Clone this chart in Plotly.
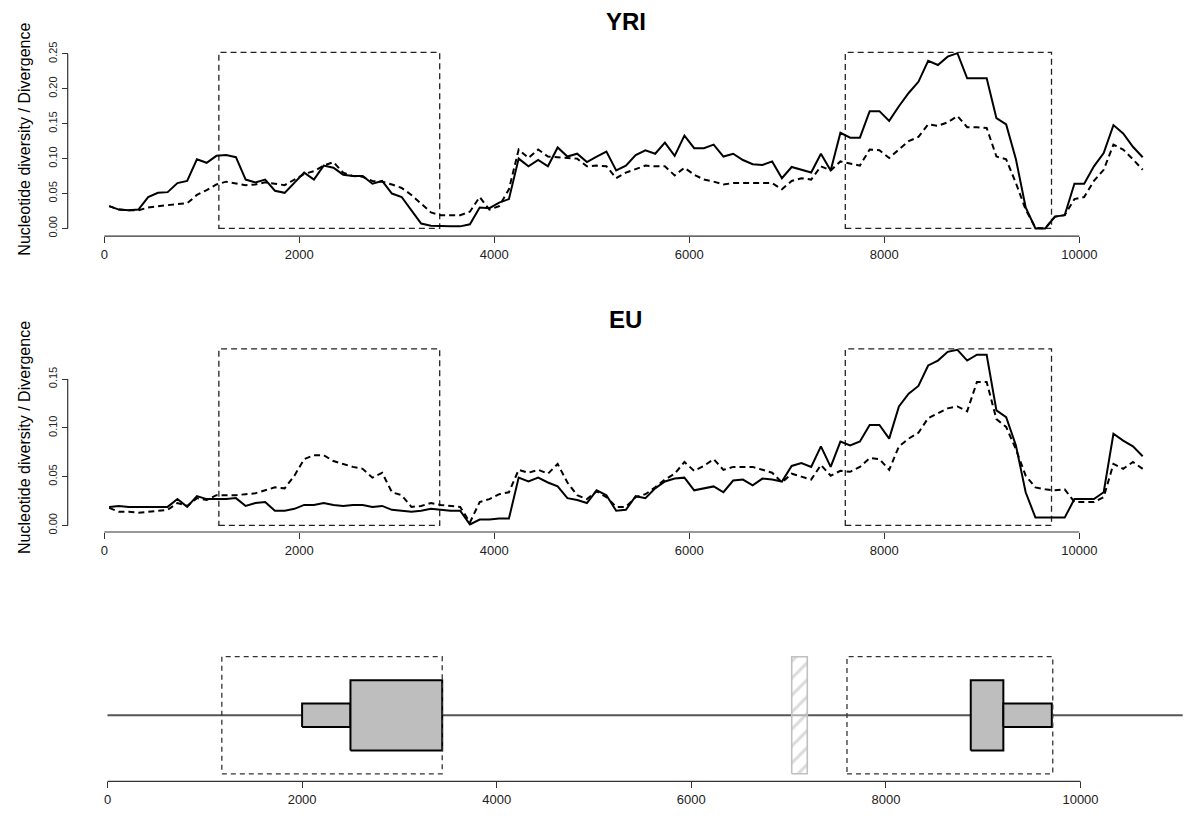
import plotly.graph_objects as go

W, H = 1200, 828
FONT = "Liberation Sans, Arial, Helvetica, sans-serif"

# ---------------- data ----------------
positions = list(range(50, 10651, 100))

yri_pi = [0.032, 0.027, 0.026, 0.027, 0.045, 0.051, 0.052, 0.065, 0.068, 0.099,
          0.094, 0.104, 0.105, 0.102, 0.070, 0.066, 0.070, 0.054, 0.051, 0.066,
          0.080, 0.070, 0.090, 0.087, 0.077, 0.075, 0.075, 0.064, 0.068, 0.050,
          0.045, 0.026, 0.007, 0.004, 0.003, 0.003, 0.003, 0.006, 0.030, 0.029,
          0.037, 0.042, 0.100, 0.089, 0.098, 0.089, 0.116, 0.103, 0.107, 0.095,
          0.103, 0.110, 0.083, 0.090, 0.105, 0.112, 0.107, 0.123, 0.104, 0.133,
          0.115, 0.115, 0.120, 0.103, 0.107, 0.098, 0.092, 0.091, 0.096, 0.072,
          0.088, 0.084, 0.080, 0.107, 0.083, 0.137, 0.130, 0.130, 0.168, 0.168,
          0.154, 0.175, 0.194, 0.210, 0.240, 0.234, 0.246, 0.251, 0.215, 0.215,
          0.215, 0.158, 0.149, 0.099, 0.030, 0.000, 0.000, 0.017, 0.019, 0.064,
          0.064, 0.089, 0.108, 0.148, 0.136, 0.117, 0.102]

yri_div = [0.032, 0.027, 0.026, 0.026, 0.030, 0.032, 0.034, 0.035, 0.036, 0.048,
           0.055, 0.063, 0.067, 0.064, 0.062, 0.063, 0.066, 0.064, 0.062, 0.070,
           0.078, 0.082, 0.090, 0.095, 0.080, 0.075, 0.074, 0.068, 0.067, 0.063,
           0.058, 0.048, 0.036, 0.023, 0.019, 0.019, 0.019, 0.024, 0.045, 0.027,
           0.032, 0.056, 0.113, 0.101, 0.113, 0.103, 0.102, 0.100, 0.100, 0.089,
           0.090, 0.089, 0.072, 0.080, 0.085, 0.090, 0.089, 0.089, 0.076, 0.087,
           0.077, 0.070, 0.067, 0.063, 0.065, 0.065, 0.065, 0.064, 0.065, 0.056,
           0.068, 0.072, 0.070, 0.089, 0.083, 0.096, 0.093, 0.090, 0.113, 0.112,
           0.101, 0.113, 0.125, 0.131, 0.149, 0.147, 0.152, 0.161, 0.145, 0.145,
           0.144, 0.103, 0.099, 0.065, 0.027, 0.001, 0.000, 0.017, 0.019, 0.042,
           0.045, 0.068, 0.084, 0.120, 0.113, 0.099, 0.084]

eu_pi = [0.019, 0.020, 0.019, 0.019, 0.019, 0.019, 0.019, 0.027, 0.019, 0.030,
         0.027, 0.027, 0.027, 0.028, 0.020, 0.023, 0.024, 0.015, 0.015, 0.017,
         0.021, 0.021, 0.023, 0.021, 0.020, 0.021, 0.021, 0.019, 0.020, 0.016,
         0.015, 0.014, 0.015, 0.017, 0.016, 0.015, 0.015, 0.001, 0.006, 0.006,
         0.007, 0.007, 0.049, 0.045, 0.049, 0.044, 0.040, 0.028, 0.026, 0.023,
         0.036, 0.031, 0.015, 0.016, 0.030, 0.028, 0.038, 0.045, 0.048, 0.049,
         0.036, 0.038, 0.040, 0.034, 0.046, 0.047, 0.041, 0.048, 0.047, 0.045,
         0.061, 0.064, 0.060, 0.081, 0.060, 0.086, 0.082, 0.086, 0.103, 0.103,
         0.089, 0.122, 0.135, 0.143, 0.164, 0.169, 0.178, 0.180, 0.169, 0.175,
         0.175, 0.118, 0.111, 0.082, 0.034, 0.008, 0.008, 0.008, 0.008, 0.027,
         0.027, 0.027, 0.034, 0.094, 0.087, 0.081, 0.071]

eu_div = [0.018, 0.014, 0.014, 0.013, 0.014, 0.015, 0.016, 0.023, 0.020, 0.028,
          0.026, 0.031, 0.031, 0.031, 0.032, 0.033, 0.036, 0.039, 0.038, 0.051,
          0.068, 0.072, 0.072, 0.066, 0.063, 0.060, 0.058, 0.049, 0.054, 0.034,
          0.031, 0.019, 0.020, 0.023, 0.021, 0.020, 0.019, 0.003, 0.024, 0.027,
          0.032, 0.034, 0.057, 0.054, 0.057, 0.053, 0.063, 0.044, 0.031, 0.027,
          0.035, 0.029, 0.019, 0.019, 0.029, 0.032, 0.039, 0.047, 0.053, 0.065,
          0.056, 0.061, 0.068, 0.057, 0.060, 0.060, 0.060, 0.057, 0.054, 0.044,
          0.053, 0.050, 0.047, 0.062, 0.051, 0.056, 0.055, 0.060, 0.069, 0.068,
          0.057, 0.081, 0.089, 0.095, 0.110, 0.115, 0.120, 0.122, 0.117, 0.147,
          0.147, 0.109, 0.101, 0.078, 0.051, 0.039, 0.037, 0.036, 0.037, 0.024,
          0.024, 0.024, 0.029, 0.063, 0.058, 0.065, 0.058]

region_starts = [1175, 7600]
region_ends = [3440, 9715]
yri_ymax = 0.252
eu_ymax = 0.181

exon_starts = [2000, 2497, 8872, 9207]
exon_ends = [2497, 3440, 9207, 9705]
exon_halfheights = [0.2, 0.6, 0.6, 0.2]
hatch_start, hatch_end = 7032, 7192
gene_start, gene_end = 0, 11050
region_halfheight = 1.0

x_ticks = [0, 2000, 4000, 6000, 8000, 10000]
x_ticklabels = ["0", "2000", "4000", "6000", "8000", "10000"]
yri_yticks = [0, 0.05, 0.10, 0.15, 0.20, 0.25]
yri_yticklabels = ["0.00", "0.05", "0.10", "0.15", "0.20", "0.25"]
eu_yticks = [0, 0.05, 0.10, 0.15]
eu_yticklabels = ["0.00", "0.05", "0.10", "0.15"]

ylab = "Nucleotide diversity / Divergence"

# ---------------- geometry helpers (pixel layout) ----------------
def pp(py):
    return 1 - py / H

def xr(px0, scale):
    return [(0 - px0) / scale, (W - px0) / scale]

AX = "#333333"

fig = go.Figure()

for xa, ya, pi, dv in (("x", "y", yri_pi, yri_div), ("x2", "y2", eu_pi, eu_div)):
    fig.add_trace(go.Scatter(x=positions, y=dv, mode="lines", xaxis=xa, yaxis=ya,
                             line=dict(color="black", width=2, dash="6px,4px"),
                             showlegend=False, hoverinfo="skip"))
    fig.add_trace(go.Scatter(x=positions, y=pi, mode="lines", xaxis=xa, yaxis=ya,
                             line=dict(color="black", width=2),
                             showlegend=False, hoverinfo="skip"))

shapes = []
for xref, yref, ymax in (("x", "y", yri_ymax), ("x2", "y2", eu_ymax)):
    for s, e in zip(region_starts, region_ends):
        shapes.append(dict(type="rect", xref=xref, yref=yref, x0=s, x1=e, y0=0, y1=ymax,
                           line=dict(color="#222222", width=1.3, dash="6px,4px"),
                           fillcolor="rgba(0,0,0,0)", layer="below"))

# gene model
fig.add_trace(go.Scatter(x=[gene_start, gene_end], y=[0, 0], mode="lines", xaxis="x3", yaxis="y3",
                         line=dict(color="#555555", width=2), showlegend=False, hoverinfo="skip"))
fig.add_trace(go.Scatter(x=[hatch_start, hatch_end, hatch_end, hatch_start, hatch_start],
                         y=[-region_halfheight, -region_halfheight, region_halfheight, region_halfheight, -region_halfheight],
                         mode="lines", fill="toself", xaxis="x3", yaxis="y3",
                         fillcolor="rgba(255,255,255,0.5)",
                         fillpattern=dict(shape="/", fgcolor="#b5b5b5", bgcolor="rgba(255,255,255,0.5)",
                                          size=12, solidity=0.25),
                         line=dict(color="#c0c0c0", width=1.6), showlegend=False, hoverinfo="skip"))
for s, e, h in zip(exon_starts, exon_ends, exon_halfheights):
    fig.add_trace(go.Scatter(x=[s, e, e, s, s], y=[-h, -h, h, h, -h], mode="lines", fill="toself",
                             fillcolor="#bebebe", xaxis="x3", yaxis="y3",
                             line=dict(color="black", width=2), showlegend=False, hoverinfo="skip"))
for s, e in zip(region_starts, region_ends):
    shapes.append(dict(type="rect", xref="x3", yref="y3", x0=s, x1=e,
                       y0=-region_halfheight, y1=region_halfheight,
                       line=dict(color="#333333", width=1.3, dash="5px,4px"),
                       fillcolor="rgba(0,0,0,0)"))

# axis lines (R style: only between first and last tick)
for xref, yref in (("x", "y domain"), ("x2", "y2 domain"), ("x3", "y3 domain")):
    shapes.append(dict(type="line", xref=xref, yref=yref, x0=x_ticks[0], x1=x_ticks[-1], y0=0, y1=0,
                       line=dict(color=AX, width=1.2)))
YAX_PX = 67.7
for yref, ticks in (("y", yri_yticks), ("y2", eu_yticks)):
    shapes.append(dict(type="line", xref="paper", yref=yref, x0=YAX_PX / W, x1=YAX_PX / W,
                       y0=ticks[0], y1=ticks[-1], line=dict(color=AX, width=1.2)))

common_x = dict(showgrid=False, zeroline=False, showline=False, ticks="outside", ticklen=6,
                tickwidth=1.2, tickcolor=AX, tickfont=dict(size=13, color="#222222", family=FONT),
                tickvals=x_ticks, ticktext=x_ticklabels, domain=[0, 1], fixedrange=True)
common_y = dict(showgrid=False, zeroline=False, showline=False, ticks="outside", ticklen=6,
                tickwidth=1.2, tickcolor=AX, tickangle=-90,
                tickfont=dict(size=11, color="#222222", family=FONT), anchor="free",
                position=YAX_PX / W, fixedrange=True)

p1_bot, p1_top = 236.7, 40
p2_bot, p2_top = 533.3, 330
p3_bot, p3_top = 783.3, 640

fig.update_layout(
    width=W, height=H, margin=dict(l=0, r=0, t=0, b=0),
    paper_bgcolor="white", plot_bgcolor="white",
    font=dict(family=FONT, color="black"),
    showlegend=False,
    shapes=shapes,
    xaxis=dict(common_x, range=xr(104.3, 0.0975), anchor="y"),
    yaxis=dict(common_y, domain=[pp(p1_bot), pp(p1_top)],
               range=[(229 - p1_bot) / 700, (229 - p1_top) / 700],
               tickvals=yri_yticks, ticktext=yri_yticklabels),
    xaxis2=dict(common_x, range=xr(104.3, 0.0975), anchor="y2"),
    yaxis2=dict(common_y, domain=[pp(p2_bot), pp(p2_top)],
                range=[(526.7 - p2_bot) / 977.8, (526.7 - p2_top) / 977.8],
                tickvals=eu_yticks, ticktext=eu_yticklabels),
    xaxis3=dict(common_x, range=xr(107.5, 0.0973), anchor="y3"),
    yaxis3=dict(showgrid=False, zeroline=False, showline=False, showticklabels=False, ticks="",
                domain=[pp(p3_bot), pp(p3_top)],
                range=[(717 - p3_bot) / 58.7, (717 - p3_top) / 58.7], anchor="x3", fixedrange=True),
    annotations=[
        dict(text="<b>YRI</b>", x=626 / W, y=pp(22), xref="paper", yref="paper", showarrow=False,
             xanchor="center", yanchor="middle", font=dict(size=24, family=FONT, color="black")),
        dict(text="<b>EU</b>", x=626 / W, y=pp(320), xref="paper", yref="paper", showarrow=False,
             xanchor="center", yanchor="middle", font=dict(size=24, family=FONT, color="black")),
        dict(text=ylab, x=25 / W, y=pp(140), xref="paper", yref="paper", showarrow=False,
             textangle=-90, xanchor="center", yanchor="middle",
             font=dict(size=16, family=FONT, color="black")),
        dict(text=ylab, x=25 / W, y=pp(439), xref="paper", yref="paper", showarrow=False,
             textangle=-90, xanchor="center", yanchor="middle",
             font=dict(size=16, family=FONT, color="black")),
    ],
)

fig.write_html("out.html", config={"displayModeBar": False},
               post_script="document.body.style.margin='0';document.body.style.padding='0';")
